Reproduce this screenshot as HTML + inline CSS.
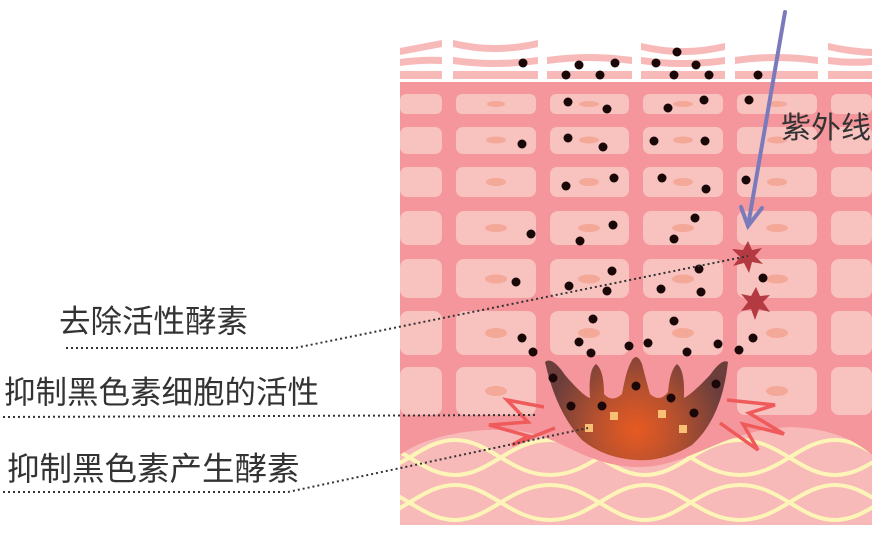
<!DOCTYPE html>
<html><head><meta charset="utf-8"><style>
html,body{margin:0;padding:0;background:#fff;}
svg{display:block;}
text{font-family:"Liberation Sans","Noto Sans CJK SC",sans-serif;fill:#333;}
</style></head><body>
<svg width="880" height="538" viewBox="0 0 880 538" xmlns="http://www.w3.org/2000/svg">
<defs>
<radialGradient id="mg" cx="636" cy="430" r="90" gradientUnits="userSpaceOnUse">
<stop offset="0" stop-color="#e85a22"/><stop offset="0.45" stop-color="#b8512e"/><stop offset="1" stop-color="#6b3e3c"/>
</radialGradient>
<clipPath id="dc"><path d="M400,455 C420,440 460,428 510,430 C560,433 580,465 636,467 C690,468 720,430 790,427 C830,428 855,440 872,455 L872,525 L400,525 Z"/></clipPath>
</defs>
<g fill="#f8b9b9">
<path d="M400,48 Q421,44 442,40 L442,47 Q421,51 400,55 Z"/>
<path d="M400,59 Q421,56 442,57 L442,64 Q421,63 400,66 Z"/>
<rect x="400" y="71" width="42" height="8"/>
<path d="M453,40 Q495,50 538,40 L538,47 Q495,57 453,47 Z"/>
<path d="M453,57 Q495,63 538,57 L538,64 Q495,70 453,64 Z"/>
<rect x="453" y="71" width="85" height="8"/>
<path d="M547,57 Q589,51 632,57 L632,64 Q589,58 547,64 Z"/>
<rect x="547" y="71" width="85" height="8"/>
<path d="M641,43 Q683,53 725,43 L725,50 Q683,60 641,50 Z"/>
<path d="M641,57 Q683,63 725,57 L725,64 Q683,70 641,64 Z"/>
<rect x="641" y="71" width="84" height="8"/>
<path d="M735,57 Q776,51 818,57 L818,64 Q776,58 735,64 Z"/>
<rect x="735" y="71" width="83" height="8"/>
<path d="M828,43 Q850,48 872,49 L872,56 Q850,55 828,50 Z"/>
<path d="M828,57 Q850,60 872,58 L872,65 Q850,67 828,64 Z"/>
<rect x="828" y="71" width="44" height="8"/>
</g>
<rect x="400" y="82" width="472" height="443" fill="#f4969b"/>
<g fill="#f8c2bf">
<rect x="400" y="94" width="42" height="20" rx="6"/><rect x="456" y="94" width="80" height="20" rx="6"/><rect x="550" y="94" width="79" height="20" rx="6"/><rect x="643" y="94" width="80" height="20" rx="6"/><rect x="737" y="94" width="80" height="20" rx="6"/><rect x="831" y="94" width="41" height="20" rx="6"/>
<rect x="400" y="127" width="42" height="27" rx="7"/><rect x="456" y="127" width="80" height="27" rx="7"/><rect x="550" y="127" width="79" height="27" rx="7"/><rect x="643" y="127" width="80" height="27" rx="7"/><rect x="737" y="127" width="80" height="27" rx="7"/><rect x="831" y="127" width="41" height="27" rx="7"/>
<rect x="400" y="167" width="42" height="30" rx="7"/><rect x="456" y="167" width="80" height="30" rx="7"/><rect x="550" y="167" width="79" height="30" rx="7"/><rect x="643" y="167" width="80" height="30" rx="7"/><rect x="737" y="167" width="80" height="30" rx="7"/><rect x="831" y="167" width="41" height="30" rx="7"/>
<rect x="400" y="211" width="42" height="34" rx="8"/><rect x="456" y="211" width="80" height="34" rx="8"/><rect x="550" y="211" width="79" height="34" rx="8"/><rect x="643" y="211" width="80" height="34" rx="8"/><rect x="737" y="211" width="80" height="34" rx="8"/><rect x="831" y="211" width="41" height="34" rx="8"/>
<rect x="400" y="259" width="42" height="39" rx="8"/><rect x="456" y="259" width="80" height="39" rx="8"/><rect x="550" y="259" width="79" height="39" rx="8"/><rect x="643" y="259" width="80" height="39" rx="8"/><rect x="737" y="259" width="80" height="39" rx="8"/><rect x="831" y="259" width="41" height="39" rx="8"/>
<rect x="400" y="311" width="42" height="44" rx="8"/><rect x="456" y="311" width="80" height="44" rx="8"/><rect x="550" y="311" width="79" height="44" rx="8"/><rect x="643" y="311" width="80" height="44" rx="8"/><rect x="737" y="311" width="80" height="44" rx="8"/><rect x="831" y="311" width="41" height="44" rx="8"/>
<rect x="400" y="367" width="42" height="48" rx="8"/><rect x="456" y="367" width="80" height="48" rx="8"/><rect x="737" y="367" width="80" height="48" rx="8"/><rect x="831" y="367" width="41" height="48" rx="8"/>
</g>
<g fill="#f4a898">
<ellipse cx="496" cy="104" rx="9" ry="3"/><ellipse cx="589" cy="104" rx="10" ry="3"/><ellipse cx="683" cy="104" rx="10" ry="3"/><ellipse cx="777" cy="104" rx="10" ry="3"/>
<ellipse cx="496" cy="140" rx="10" ry="3.5"/><ellipse cx="589" cy="140" rx="10" ry="3.5"/><ellipse cx="683" cy="140" rx="10" ry="3.5"/><ellipse cx="777" cy="140" rx="10" ry="3.5"/>
<ellipse cx="496" cy="182" rx="10" ry="4"/><ellipse cx="589" cy="182" rx="10" ry="4"/><ellipse cx="683" cy="182" rx="10" ry="4"/><ellipse cx="777" cy="182" rx="10" ry="4"/>
<ellipse cx="496" cy="228" rx="11" ry="4"/><ellipse cx="589" cy="228" rx="11" ry="4"/><ellipse cx="683" cy="228" rx="11" ry="4"/><ellipse cx="777" cy="228" rx="11" ry="4"/>
<ellipse cx="496" cy="279" rx="11" ry="4.5"/><ellipse cx="589" cy="279" rx="11" ry="4.5"/><ellipse cx="683" cy="279" rx="11" ry="4.5"/><ellipse cx="777" cy="279" rx="11" ry="4.5"/>
<ellipse cx="496" cy="333" rx="11" ry="5"/><ellipse cx="589" cy="333" rx="11" ry="5"/><ellipse cx="683" cy="333" rx="11" ry="5"/><ellipse cx="777" cy="333" rx="11" ry="5"/>
<ellipse cx="496" cy="391" rx="11" ry="5"/><ellipse cx="777" cy="391" rx="11" ry="5"/>
</g>
<path d="M400,455 C420,440 460,428 510,430 C560,433 580,465 636,467 C690,468 720,430 790,427 C830,428 855,440 872,455 L872,525 L400,525 Z" fill="#f8b9b9"/>
<g clip-path="url(#dc)" fill="none" stroke="#fdf5b8" stroke-width="4">
<path d="M360,440 C400,440 420,475 455,475 C490,475 510,440 550,440 C590,440 610,475 645,475 C680,475 700,440 740,440 C780,440 800,475 835,475 C870,475 890,440 930,440"/>
<path d="M360,475 C400,475 420,440 455,440 C490,440 510,475 550,475 C590,475 610,440 645,440 C680,440 700,475 740,475 C780,475 800,440 835,440 C870,440 890,475 930,475"/>
<path d="M360,485 C400,485 420,520 455,520 C490,520 510,485 550,485 C590,485 610,520 645,520 C680,520 700,485 740,485 C780,485 800,520 835,520 C870,520 890,485 930,485"/>
<path d="M360,520 C400,520 420,485 455,485 C490,485 510,520 550,520 C590,520 610,485 645,485 C680,485 700,520 740,520 C780,520 800,485 835,485 C870,485 890,520 930,520"/>
</g>
<path d="M545,362 Q552,356 565,375 Q583,396 590,398 Q588,370 596,364 Q604,370 604,394 Q612,403 622,394 Q626,372 630,364 Q636,350 642,364 Q646,380 650,394 Q660,403 668,392 Q670,370 677,364 Q685,370 684,398 Q692,394 710,375 Q722,358 728,362 Q722,418 692,445 Q664,462 636,460 Q604,458 582,440 Q556,412 545,362 Z" fill="url(#mg)"/>
<g fill="#f9bf75">
<rect x="610" y="412" width="8" height="8"/><rect x="658" y="410" width="8" height="8"/><rect x="679" y="425" width="8" height="8"/><rect x="585" y="424" width="8" height="8"/>
</g>
<g fill="none" stroke="#ef5a5a" stroke-width="3.5" stroke-linejoin="miter">
<polyline points="544,407 507,400 528,422 489,425 528,436 512,445 555,428"/>
<polyline points="727,400 775,405 749,413 784,434 743,424 758,450 720,423"/>
</g>
<g fill="#1a0808">
<circle cx="523" cy="63" r="4.5"/><circle cx="579" cy="65" r="4.5"/><circle cx="615" cy="63" r="4.5"/><circle cx="566" cy="75" r="4.5"/><circle cx="600" cy="75" r="4.5"/><circle cx="677" cy="52" r="4.5"/><circle cx="656" cy="63" r="4.5"/><circle cx="696" cy="65" r="4.5"/><circle cx="674" cy="75" r="4.5"/><circle cx="709" cy="75" r="4.5"/><circle cx="758" cy="75" r="4.5"/>
<circle cx="568" cy="102" r="4.5"/><circle cx="607" cy="109" r="4.5"/><circle cx="668" cy="108" r="4.5"/><circle cx="704" cy="100" r="4.5"/><circle cx="749" cy="100" r="4.5"/>
<circle cx="522" cy="144" r="4.5"/><circle cx="568" cy="138" r="4.5"/><circle cx="603" cy="147" r="4.5"/><circle cx="654" cy="141" r="4.5"/><circle cx="705" cy="141" r="4.5"/>
<circle cx="566" cy="186" r="4.5"/><circle cx="614" cy="178" r="4.5"/><circle cx="662" cy="178" r="4.5"/><circle cx="706" cy="189" r="4.5"/><circle cx="746" cy="180" r="4.5"/>
<circle cx="531" cy="234" r="4.5"/><circle cx="580" cy="241" r="4.5"/><circle cx="613" cy="225" r="4.5"/><circle cx="674" cy="239" r="4.5"/><circle cx="695" cy="218" r="4.5"/>
<circle cx="612" cy="271" r="4.5"/><circle cx="699" cy="269" r="4.5"/><circle cx="763" cy="278" r="4.5"/>
<circle cx="516" cy="282" r="4.5"/><circle cx="569" cy="286" r="4.5"/><circle cx="607" cy="291" r="4.5"/><circle cx="661" cy="289" r="4.5"/><circle cx="701" cy="292" r="4.5"/>
<circle cx="593" cy="319" r="4.5"/><circle cx="674" cy="321" r="4.5"/><circle cx="522" cy="338" r="4.5"/><circle cx="579" cy="342" r="4.5"/><circle cx="533" cy="352" r="4.5"/><circle cx="591" cy="353" r="4.5"/><circle cx="629" cy="346" r="4.5"/><circle cx="648" cy="343" r="4.5"/><circle cx="687" cy="352" r="4.5"/><circle cx="718" cy="344" r="4.5"/><circle cx="739" cy="350" r="4.5"/><circle cx="753" cy="338" r="4.5"/>
<circle cx="553" cy="378" r="4.5"/><circle cx="636" cy="386" r="4.5"/><circle cx="716" cy="384" r="4.5"/><circle cx="571" cy="406" r="4.5"/><circle cx="602" cy="406" r="4.5"/><circle cx="671" cy="398" r="4.5"/><circle cx="694" cy="413" r="4.5"/>
</g>
<g fill="#b33a40">
<polygon points="748,241 752,250 762,248 755,256 763,264 752,262 749,273 744,263 733,266 740,257 732,249 743,250"/>
<polygon points="756,287 760,296 770,295 763,302 770,312 759,309 755,320 751,309 741,311 748,302 741,294 751,296"/>
</g>
<g stroke="#7b7bbb" stroke-width="4" fill="none" stroke-linecap="round">
<line x1="785" y1="12" x2="748" y2="226"/>
<polyline points="741,207 748,226 762,208"/>
</g>
<g stroke="#333" stroke-width="2" stroke-dasharray="2,3" fill="none">
<polyline points="66,348 295,348 748,256"/>
<polyline points="3,417 535,415"/>
<polyline points="3,492 288,492 588,428"/>
</g>
<text x="781" y="138" font-size="30">紫外线</text>
<text x="59" y="332" font-size="31.5">去除活性酵素</text>
<text x="4" y="403" font-size="31.5">抑制黑色素细胞的活性</text>
<text x="7" y="480" font-size="32.5">抑制黑色素产生酵素</text>
</svg>
</body></html>
